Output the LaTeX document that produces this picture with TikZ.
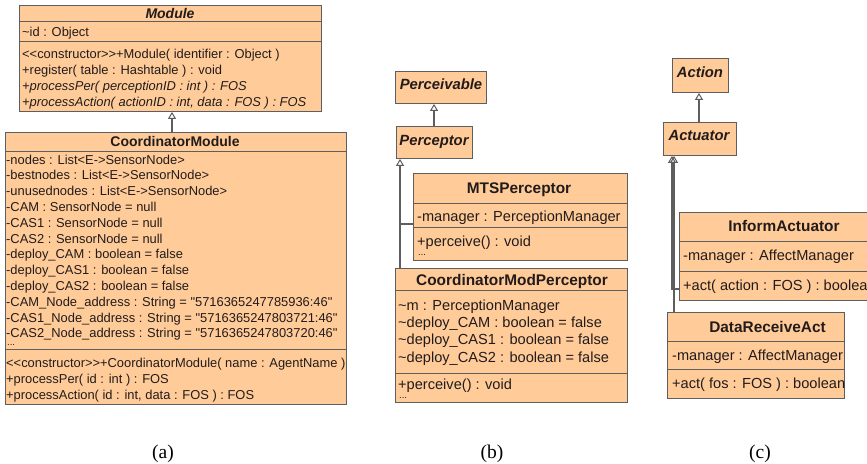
\documentclass[tikz,border=0pt]{standalone}
\usepackage{fontspec}
\setmainfont{Liberation Serif}
\newfontfamily\arial[Ligatures=TeXOff]{Liberation Sans}
\usetikzlibrary{arrows.meta}
\definecolor{clsfill}{HTML}{FFCC99}
\definecolor{clsline}{HTML}{5E5E5E}
\definecolor{txtc}{HTML}{231B1B}
\tikzset{
 cls/.style={draw=clsline, fill=clsfill, line width=0.9pt, rectangle, inner sep=0pt, anchor=north west},
 sepline/.style={draw=clsline, line width=0.9pt},
 ta/.style={anchor=base west, inner sep=0pt, text=txtc, font=\arial\fontsize{12.9}{15}\selectfont},
 tai/.style={ta, font=\arial\itshape\fontsize{12.9}{15}\selectfont},
 ha/.style={anchor=base, inner sep=0pt, text=txtc, font=\arial\bfseries\fontsize{14}{16}\selectfont},
 hai/.style={ha, font=\arial\bfseries\itshape\fontsize{14}{16}\selectfont},
 tb/.style={ta, font=\arial\fontsize{14.6}{17}\selectfont},
 hb/.style={ha, font=\arial\bfseries\fontsize{15.4}{17}\selectfont},
 hbi/.style={ha, font=\arial\bfseries\itshape\fontsize{14.8}{17}\selectfont},
 dotsa/.style={anchor=base west, inner sep=0pt, text=txtc, font=\arial\fontsize{9.5}{10}\selectfont},
 inh/.style={draw=clsline, line width=1.1pt, -{Triangle[open, length=7pt, width=8pt, line width=1pt]}},
 conn/.style={draw=clsline, line width=1.1pt},
 capt/.style={anchor=base, inner sep=0pt, font=\fontsize{19.5}{22}\selectfont},
}
\begin{document}
\begin{tikzpicture}[x=1pt,y=-1pt]
\useasboundingbox (0,0) rectangle (867,463);
\clip (0,0) rectangle (867,463);

% ---------------- (a) ----------------
\node[cls, minimum width=302pt, minimum height=106pt] (module) at (19,5) {};
\draw[sepline] (19,21) -- (321,21);
\draw[sepline] (19,41) -- (321,41);
\node[hai] (moduleT) at (170,18) {Module};
\node[ta] (ma1) at (22,36) {\textasciitilde id : Object};
\node[ta] (mm1) at (22,58) {<<constructor>>+Module( identifier : Object )};
\node[ta] (mm2) at (22,74) {+register( table : Hashtable ) : void};
\node[tai] (mm3) at (22,90) {+processPer( perceptionID : int ) : FOS};
\node[tai] (mm4) at (22,106) {+processAction( actionID : int, data : FOS ) : FOS};

\node[cls, minimum width=341pt, minimum height=272pt] (coord) at (5,132) {};
\draw[sepline] (5,151) -- (346,151);
\draw[sepline] (5,349) -- (346,349);
\node[ha] (coordT) at (175,146.5) {CoordinatorModule};
\node[ta] (ca1) at (6,164) {-nodes : List<E->SensorNode>};
\node[ta] (ca2) at (6,179.8) {-bestnodes : List<E->SensorNode>};
\node[ta] (ca3) at (6,195.6) {-unusednodes : List<E->SensorNode>};
\node[ta] (ca4) at (6,211.4) {-CAM : SensorNode = null};
\node[ta] (ca5) at (6,227.2) {-CAS1 : SensorNode = null};
\node[ta] (ca6) at (6,243) {-CAS2 : SensorNode = null};
\node[ta] (ca7) at (6,258.8) {-deploy\_CAM : boolean = false};
\node[ta] (ca8) at (6,274.6) {-deploy\_CAS1 : boolean = false};
\node[ta] (ca9) at (6,290.4) {-deploy\_CAS2 : boolean = false};
\node[ta] (ca10) at (6,306.2) {-CAM\_Node\_address : String = "5716365247785936:46"};
\node[ta] (ca11) at (6,322) {-CAS1\_Node\_address : String = "5716365247803721:46"};
\node[ta] (ca12) at (6,337.8) {-CAS2\_Node\_address : String = "5716365247803720:46"};
\node[dotsa] (cdots) at (7,345.5) {...};
\node[ta] (cm1) at (6,367) {<<constructor>>+CoordinatorModule( name : AgentName )};
\node[ta] (cm2) at (6,383) {+processPer( id : int ) : FOS};
\node[ta] (cm3) at (6,399) {+processAction( id : int, data : FOS ) : FOS};

\coordinate (ax) at (172,0);
\draw[inh] (coord.north -| ax) -- (module.south -| ax);

% ---------------- (b) ----------------
\node[cls, minimum width=91pt, minimum height=32pt] (perceivable) at (395,71) {};
\node[hbi] (perceivableT) at (441,89.5) {Perceivable};
\node[cls, minimum width=76pt, minimum height=32pt] (perceptor) at (396,126) {};
\node[hbi] (perceptorT) at (434,145) {Perceptor};

\node[cls, minimum width=214pt, minimum height=87pt] (mts) at (413,173) {};
\draw[sepline] (413,203) -- (627,203);
\draw[sepline] (413,227) -- (627,227);
\node[hb] (mtsT) at (519,193) {MTSPerceptor};
\node[tb] (mtsa1) at (417,221) {-manager : PerceptionManager};
\node[tb] (mtsm1) at (417,246) {+perceive() : void};
\node[dotsa] (mtsdots) at (418,255) {...};

\node[cls, minimum width=232pt, minimum height=134pt] (cmp) at (395,268) {};
\draw[sepline] (395,290) -- (627,290);
\draw[sepline] (395,373) -- (627,373);
\node[hb] (cmpT) at (512,285) {CoordinatorModPerceptor};
\node[tb] (cmpa1) at (398,310.5) {\textasciitilde m : PerceptionManager};
\node[tb] (cmpa2) at (398,327.7) {\textasciitilde deploy\_CAM : boolean = false};
\node[tb] (cmpa3) at (398,344.9) {\textasciitilde deploy\_CAS1 : boolean = false};
\node[tb] (cmpa4) at (398,362.1) {\textasciitilde deploy\_CAS2 : boolean = false};
\node[tb] (cmpm1) at (398,389.5) {+perceive() : void};
\node[dotsa] (cmpdots) at (399,398.5) {...};

\coordinate (px) at (434,0);
\draw[inh] (perceptor.north -| px) -- (perceivable.south -| px);
\coordinate (bx) at (400,0);
\coordinate (bj) at (400,224);
\draw[inh] (cmp.north -| bx) -- (perceptor.south -| bx);
\draw[conn] (bj) -- (mts.west |- bj);

% ---------------- (c) ----------------
\node[cls, minimum width=56pt, minimum height=34pt] (action) at (672,58) {};
\node[hbi] (actionT) at (700,77.5) {Action};
\node[cls, minimum width=73pt, minimum height=33pt] (actuator) at (663,122) {};
\node[hbi] (actuatorT) at (699,140.7) {Actuator};

\node[cls, minimum width=210pt, minimum height=88pt] (inform) at (679,212) {};
\draw[sepline] (679,241) -- (889,241);
\draw[sepline] (679,271) -- (889,271);
\node[hb] (informT) at (784,231.5) {InformActuator};
\node[tb] (infa1) at (683,260) {-manager : AffectManager};
\node[tb] (infm1) at (683,290) {+act( action : FOS ) : boolean};

\node[cls, minimum width=177pt, minimum height=86pt] (dra) at (667,312) {};
\draw[sepline] (667,341) -- (844,341);
\draw[sepline] (667,369) -- (844,369);
\node[hb] (draT) at (767.5,332.5) {DataReceiveAct};
\node[tb] (draa1) at (672,360.5) {-manager : AffectManager};
\node[tb] (dram1) at (672,388.5) {+act( fos : FOS ) : boolean};

\coordinate (qx) at (699,0);
\draw[inh] (actuator.north -| qx) -- (action.south -| qx);
\coordinate (cx1) at (672,0);
\coordinate (cx2) at (674,0);
\coordinate (cj) at (672,289);
\draw[inh] (inform.west |- cj) -- (cj) -- (actuator.south -| cx1);
\draw[inh] (dra.north -| cx2) -- (actuator.south -| cx2);

% ---------------- captions ----------------
\node[capt] (capa) at (163,458) {(a)};
\node[capt] (capb) at (492,458) {(b)};
\node[capt] (capc) at (760,458) {(c)};
\end{tikzpicture}
\end{document}
